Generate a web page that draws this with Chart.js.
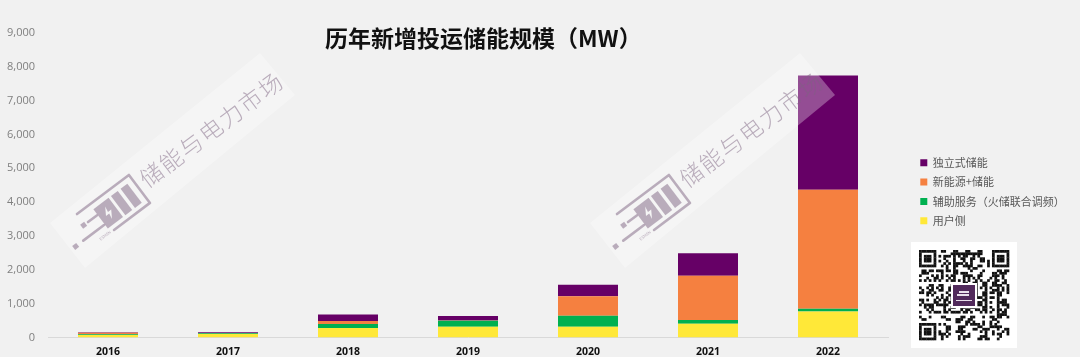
<!DOCTYPE html>
<html>
<head>
<meta charset="utf-8">
<style>
  html, body { margin: 0; padding: 0; background: #f1f1f1; }
  #chart { display: block; }
</style>
<script src="https://cdn.jsdelivr.net/npm/chart.js@4"></script>
</head>
<body>
<canvas id="chart" width="1080" height="357"></canvas>
<script>
const categories = ['2016', '2017', '2018', '2019', '2020', '2021', '2022'];
const seriesNames = ['用户侧', '辅助服务（火储联合调频）', '新能源+储能', '独立式储能'];
const userSide = [70, 100, 275, 315, 315, 403, 767];
const auxService = [25, 25, 118, 175, 325, 108, 79];
const newEnergy = [40, 5, 89, 10, 580, 1309, 3521];
const standalone = [20, 20, 196, 130, 334, 668, 3378];
const seriesColors = ['#ffe838', '#00b050', '#f58040', '#660066'];
const chartTitle = '历年新增投运储能规模（MW）';
const watermarkText = '储能与电力市场';

const CJK = '"Noto Sans CJK SC", "Noto Sans", sans-serif';

// moves title and legend to where the reference has them
const placeBlocks = {
    id: 'placeBlocks',
    afterLayout(chart) {
        const title = chart.titleBlock;
        title.left = 325;
        title.right = 900;
        title.top = 24;
        const legend = chart.legend;
        const w = legend.width;
        legend.left = 920 - 8;
        legend.right = legend.left + w;
        legend.top = 149;
    }
};

function drawWatermark(ctx, dx) {
    ctx.save();
    ctx.translate(dx, 0);
    ctx.fillStyle = 'rgba(255,255,255,0.3)';
    ctx.beginPath();
    ctx.moveTo(50, 223);
    ctx.lineTo(260, 53);
    ctx.lineTo(295, 95);
    ctx.lineTo(85, 268);
    ctx.closePath();
    ctx.fill();

    // icon and text, rotated along the band
    ctx.translate(110, 213);
    ctx.rotate(-37 * Math.PI / 180);
    const ink = 'rgba(125,100,130,0.5)';
    ctx.strokeStyle = ink;
    ctx.fillStyle = ink;
    ctx.lineWidth = 2.6;
    ctx.lineCap = 'round';
    ctx.lineJoin = 'round';
    ctx.beginPath();
    ctx.moveTo(-27, -19);
    ctx.lineTo(38, -19);
    ctx.lineTo(38, 16);
    ctx.lineTo(-7, 16);
    ctx.stroke();
    ctx.beginPath();
    ctx.moveTo(-38, 6);
    ctx.lineTo(-12, 6);
    ctx.moveTo(-23, -6);
    ctx.lineTo(-12, -6);
    ctx.stroke();
    ctx.fillRect(-50, 3.5, 5, 5);
    ctx.fillRect(-31, -8.5, 5, 5);
    ctx.fillRect(-11, -13, 19, 24);
    ctx.fillRect(11, -13, 8.5, 24);
    ctx.fillRect(23, -13, 8.5, 24);
    ctx.fillStyle = '#f5f5f5';
    ctx.beginPath();
    ctx.moveTo(0, -8);
    ctx.lineTo(-5, 0);
    ctx.lineTo(-1, 0);
    ctx.lineTo(-2, 6);
    ctx.lineTo(3, -2);
    ctx.lineTo(-1, -2);
    ctx.closePath();
    ctx.fill();

    ctx.fillStyle = ink;
    ctx.font = '4px ' + CJK;
    ctx.textBaseline = 'middle';
    ctx.fillText('ESMEN', -24, 15);
    ctx.font = '300 23px ' + CJK;
    ctx.letterSpacing = '1.8px';
    ctx.fillText(watermarkText, 44.5, -5.5);
    ctx.restore();
}

function drawQr(ctx) {
    const x0 = 919, y0 = 250, n = 37, m = 90 / n;
    ctx.save();
    ctx.fillStyle = '#ffffff';
    ctx.fillRect(911, 242, 106, 106);
    ctx.fillStyle = '#111111';
    const finder = (r, c) => {
        const a = Math.max(Math.abs(r - 3), Math.abs(c - 3));
        return a === 3 || a <= 1;
    };
    for (let r = 0; r < n; r++) {
        for (let c = 0; c < n; c++) {
            let on;
            if (r < 8 && c < 8) on = r < 7 && c < 7 && finder(r, c);
            else if (r < 8 && c >= n - 8) on = r < 7 && c > n - 8 && finder(r, c - (n - 7));
            else if (r >= n - 8 && c < 8) on = r > n - 8 && c < 7 && finder(r - (n - 7), c);
            else on = ((r * 31 + c * 17 + (r * c) % 13 + (r ^ c) * 7) % 5) < 2;
            if (on) ctx.fillRect(x0 + c * m, y0 + r * m, m + 0.3, m + 0.3);
        }
    }
    // logo in the middle
    ctx.fillStyle = '#ffffff';
    ctx.fillRect(951, 283, 26, 25);
    ctx.fillStyle = '#512a5b';
    ctx.fillRect(953, 285, 22, 21);
    ctx.fillStyle = '#e8dfea';
    ctx.fillRect(959, 291, 10, 2);
    ctx.fillRect(957, 294, 12, 2);
    ctx.fillRect(956, 300, 16, 1);
    ctx.restore();
}

const decorations = {
    id: 'decorations',
    afterDraw(chart) {
        const ctx = chart.ctx;
        drawWatermark(ctx, 0);
        drawWatermark(ctx, 540);
        drawQr(ctx);
    }
};

const seriesValues = [userSide, auxService, newEnergy, standalone];
const datasets = seriesNames.map((name, i) => ({
    label: name,
    data: seriesValues[i],
    backgroundColor: seriesColors[i],
    borderWidth: 0,
    barPercentage: 0.5,
    categoryPercentage: 1
}));

const chart = new Chart(document.getElementById('chart'), {
    type: 'bar',
    data: { labels: categories, datasets: datasets },
    options: {
        responsive: false,
        animation: false,
        layout: { padding: { left: 0, right: 192, top: 0, bottom: 0 } },
        plugins: {
            tooltip: { enabled: false },
            title: {
                display: true,
                text: chartTitle,
                align: 'start',
                color: '#111111',
                font: { family: CJK, size: 23, weight: 'bold' },
                padding: { top: 0, bottom: 5.4 }
            },
            legend: {
                position: 'chartArea',
                align: 'start',
                reverse: true,
                labels: {
                    boxWidth: 7,
                    boxHeight: 7,
                    padding: 8.3,
                    color: '#595959',
                    font: { family: CJK, size: 11 }
                }
            }
        },
        scales: {
            x: {
                stacked: true,
                grid: { display: false, drawTicks: false },
                border: { color: '#d9d9d9', width: 1 },
                ticks: {
                    color: '#111111',
                    padding: 8,
                    maxRotation: 0,
                    font: { family: '"Open Sans", sans-serif', size: 10.5, weight: 'bold' }
                },
                afterFit(scale) { scale.height = 19; }
            },
            y: {
                stacked: true,
                min: 0,
                max: 9000,
                grid: { display: false, drawTicks: false },
                border: { display: false },
                ticks: {
                    stepSize: 1000,
                    color: '#7f7f7f',
                    padding: 13,
                    font: { family: '"Open Sans", sans-serif', size: 11 }
                },
                afterFit(scale) { scale.width = 48; }
            }
        }
    },
    plugins: [placeBlocks, decorations]
});
</script>
</body>
</html>
